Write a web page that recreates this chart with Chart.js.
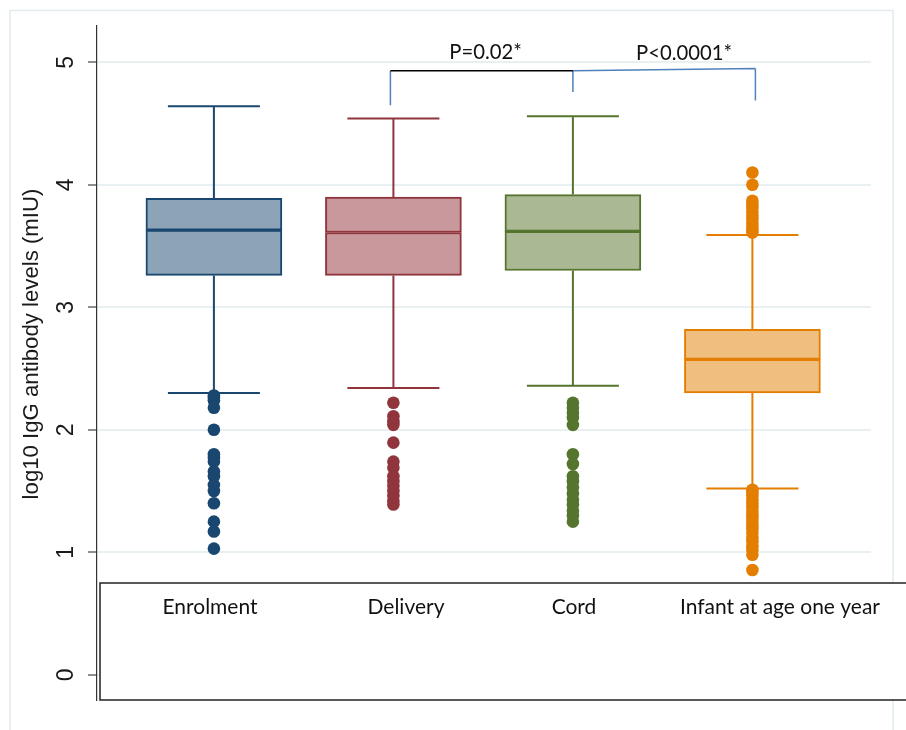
<!DOCTYPE html>
<html>
<head>
<meta charset="utf-8">
<script src="https://cdn.jsdelivr.net/npm/chart.js@4.4.1/dist/chart.umd.min.js"></script>
<style>
  html, body { margin: 0; padding: 0; background: #ffffff; }
  #wrap { width: 906px; height: 730px; }
</style>
</head>
<body>
<div id="wrap"><canvas id="c" width="906" height="730"></canvas></div>
<script>
// ---------------- data ----------------
const categories = ['Enrolment', 'Delivery', 'Cord', 'Infant at age one year'];
const q1Values = [3.26, 3.26, 3.30, 2.30];
const medianValues = [3.63, 3.61, 3.62, 2.575];
const q3Values = [3.89, 3.90, 3.92, 2.82];
const lowerWhiskers = [2.30, 2.34, 2.36, 1.52];
const upperWhiskers = [4.64, 4.54, 4.56, 3.59];
const outliersEnrolment = [2.28, 2.26, 2.24, 2.18, 2.00, 1.80, 1.77, 1.74, 1.66, 1.62, 1.55, 1.50, 1.40, 1.25, 1.17, 1.03];
const outliersDelivery = [2.22, 2.11, 2.07, 2.04, 1.895, 1.74, 1.69, 1.62, 1.58, 1.54, 1.50, 1.46, 1.42, 1.39];
const outliersCord = [2.22, 2.18, 2.14, 2.10, 2.04, 1.80, 1.72, 1.62, 1.58, 1.53, 1.48, 1.43, 1.39, 1.34, 1.30, 1.25];
const outliersInfant = [4.10, 4.00, 3.87, 3.84, 3.81, 3.78, 3.75, 3.72, 3.69, 3.66, 3.63, 3.61,
                        1.51, 1.49, 1.46, 1.43, 1.40, 1.37, 1.34, 1.31, 1.28, 1.25, 1.22, 1.19, 1.16, 1.12, 1.09, 1.05, 1.02, 0.98, 0.855];
const yTickValues = [0, 1, 2, 3, 4, 5];
const yAxisTitle = 'log10 IgG antibody levels (mIU)';
const pLabels = ['P=0.02*', 'P<0.0001*'];

// ---------------- styles ----------------
const strokeColors = ['#1a476f', '#90353b', '#55752f', '#e37e00'];
const fillColors = ['#8da3b8', '#c8989c', '#abb894', '#f0bf80'];
const outlierSets = [outliersEnrolment, outliersDelivery, outliersCord, outliersInfant];

const lowerHalf = categories.map((c, i) => ({ x: i + 1, y: [q1Values[i], medianValues[i]] }));
const upperHalf = categories.map((c, i) => ({ x: i + 1, y: [medianValues[i], q3Values[i]] }));

const boxCommon = {
  type: 'bar',
  backgroundColor: fillColors,
  borderColor: strokeColors,
  borderWidth: 2,
  borderSkipped: false,
  barThickness: 136,
  grouped: false,
  order: 2
};

const datasets = [
  Object.assign({ label: 'lower', data: lowerHalf }, boxCommon),
  Object.assign({ label: 'upper', data: upperHalf }, boxCommon)
];
outlierSets.forEach((set, i) => {
  datasets.push({
    type: 'scatter',
    label: categories[i] + ' outliers',
    data: set.map(v => ({ x: i + 1, y: v })),
    backgroundColor: strokeColors[i],
    borderColor: strokeColors[i],
    borderWidth: 0,
    pointRadius: 6.3,
    order: 1
  });
});

function fitSize(ctx, text, family, target) {
  ctx.font = '100px ' + family;
  return 100 * target / ctx.measureText(text).width;
}

const decorPlugin = {
  id: 'decor',
  beforeDraw(chart) {
    const ctx = chart.ctx;
    ctx.save();
    ctx.fillStyle = '#ffffff';
    ctx.fillRect(0, 0, chart.width, chart.height);
    ctx.strokeStyle = '#e1ebee';
    ctx.lineWidth = 1.5;
    ctx.beginPath();
    ctx.moveTo(10, 730); ctx.lineTo(10, 10.5); ctx.lineTo(893, 10.5); ctx.lineTo(893, 730);
    ctx.stroke();
    ctx.restore();
  },
  beforeDatasetsDraw(chart) {
    const ctx = chart.ctx;
    const xs = chart.scales.x, ys = chart.scales.y;
    ctx.save();
    ctx.lineWidth = 2;
    categories.forEach((c, i) => {
      const cx = xs.getPixelForValue(i + 1);
      const half = 46;
      ctx.strokeStyle = strokeColors[i];
      ctx.beginPath();
      ctx.moveTo(cx, ys.getPixelForValue(q3Values[i]));
      ctx.lineTo(cx, ys.getPixelForValue(upperWhiskers[i]));
      ctx.moveTo(cx - half, ys.getPixelForValue(upperWhiskers[i]));
      ctx.lineTo(cx + half, ys.getPixelForValue(upperWhiskers[i]));
      ctx.moveTo(cx, ys.getPixelForValue(q1Values[i]));
      ctx.lineTo(cx, ys.getPixelForValue(lowerWhiskers[i]));
      ctx.moveTo(cx - half, ys.getPixelForValue(lowerWhiskers[i]));
      ctx.lineTo(cx + half, ys.getPixelForValue(lowerWhiskers[i]));
      ctx.stroke();
    });
    ctx.restore();
  },
  afterDraw(chart) {
    const ctx = chart.ctx;
    const xs = chart.scales.x, ys = chart.scales.y;
    ctx.save();
    // y tick labels (rotated) and title
    ctx.fillStyle = '#1a1a1a';
    ctx.textAlign = 'center';
    ctx.textBaseline = 'middle';
    ctx.font = '23px "Liberation Sans", Arial, sans-serif';
    yTickValues.forEach(v => {
      const py = ys.getPixelForValue(v);
      ctx.save();
      ctx.translate(67, py);
      ctx.rotate(-Math.PI / 2);
      ctx.fillText(String(v), 0, 0);
      ctx.restore();
    });
    ctx.save();
    ctx.translate(32, 344);
    ctx.rotate(-Math.PI / 2);
    const titleFam = '"Liberation Sans", Arial, sans-serif';
    const tSize = fitSize(ctx, yAxisTitle, titleFam, 311);
    ctx.font = tSize.toFixed(2) + 'px ' + titleFam;
    ctx.fillText(yAxisTitle, 0, 0);
    ctx.restore();

    // category label box
    ctx.fillStyle = '#ffffff';
    ctx.fillRect(100, 583, 820, 117);
    ctx.strokeStyle = '#222222';
    ctx.lineWidth = 1.5;
    ctx.strokeRect(100, 583, 820, 117);
    const fam = 'Lato, "Open Sans", sans-serif';
    const catSize = fitSize(ctx, categories[3], fam, 200);
    ctx.font = catSize.toFixed(2) + 'px ' + fam;
    ctx.fillStyle = '#111111';
    const labelX = [210, 406, 574, 780];
    categories.forEach((c, i) => ctx.fillText(c, labelX[i], 607));

    // significance brackets
    const xD = xs.getPixelForValue(2) - 3;
    const xC = xs.getPixelForValue(3);
    const xI = xs.getPixelForValue(4) + 3;
    const yTop = ys.getPixelForValue(4.93);
    const yTopR = ys.getPixelForValue(4.95);
    ctx.lineWidth = 1.5;
    ctx.strokeStyle = '#4f81bd';
    ctx.beginPath();
    ctx.moveTo(xD, yTop); ctx.lineTo(xD, ys.getPixelForValue(4.65));
    ctx.moveTo(xC, yTop); ctx.lineTo(xC, ys.getPixelForValue(4.757));
    ctx.moveTo(xC, yTop); ctx.lineTo(xI, yTopR);
    ctx.moveTo(xI, yTopR); ctx.lineTo(xI, ys.getPixelForValue(4.687));
    ctx.stroke();
    ctx.strokeStyle = '#000000';
    ctx.beginPath();
    ctx.moveTo(xD, yTop); ctx.lineTo(xC, yTop);
    ctx.stroke();
    const pSize = fitSize(ctx, pLabels[1], fam, 96);
    ctx.font = pSize.toFixed(2) + 'px ' + fam;
    ctx.fillStyle = '#111111';
    ctx.fillText(pLabels[0], 485.5, 52);
    ctx.fillText(pLabels[1], 684, 53);
    ctx.restore();
  }
};

new Chart(document.getElementById('c'), {
  type: 'bar',
  data: { datasets },
  options: {
    responsive: false,
    devicePixelRatio: 1,
    animation: false,
    layout: { padding: { left: 0, top: 26, right: 35, bottom: 30 } },
    plugins: { legend: { display: false }, tooltip: { enabled: false } },
    scales: {
      x: {
        type: 'linear',
        min: 0.3487,
        max: 4.6607,
        display: false,
        offset: false
      },
      y: {
        type: 'linear',
        min: -0.206,
        max: 5.296,
        afterBuildTicks: s => { s.ticks = yTickValues.map(v => ({ value: v })); },
        afterFit: s => { s.width = 97; },
        ticks: { display: false },
        grid: { color: '#e8f0f2', lineWidth: 2, tickLength: 9, tickColor: '#444444', tickWidth: 1.2, drawTicks: true },
        border: { color: '#333333', width: 1.2 }
      }
    }
  },
  plugins: [decorPlugin]
});
</script>
</body>
</html>
